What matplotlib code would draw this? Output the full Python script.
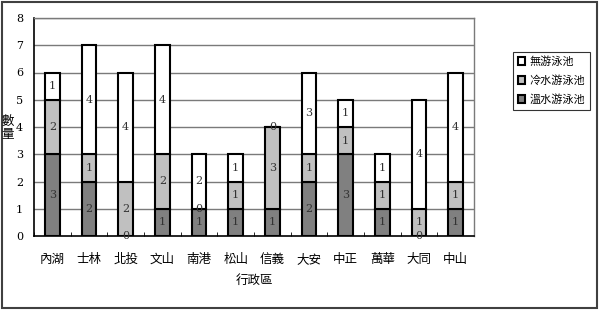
import matplotlib
matplotlib.use('Agg')
import matplotlib.pyplot as plt
import numpy as np

plt.rcParams['font.family'] = ['Noto Sans CJK TC', 'DejaVu Sans']

districts = ['內湖', '士林', '北投', '文山', '南港', '松山', '信義', '大安', '中正', '萬華', '大同', '中山']
warm = [3, 2, 0, 1, 1, 1, 1, 2, 3, 1, 0, 1]   # 溫水游泳池
cold = [2, 1, 2, 2, 0, 1, 3, 1, 1, 1, 1, 1]   # 冷水游泳池
none = [1, 4, 4, 4, 2, 1, 0, 3, 1, 1, 4, 4]   # 無游泳池
yticks = list(range(9))

fig = plt.figure(figsize=(5.99, 3.10), dpi=100)
ax = fig.add_axes([34/599, 1 - 236/310, 440/599, 218/310])

x = np.arange(len(districts))
w = 0.4
warm = np.array(warm); cold = np.array(cold); none = np.array(none)
series = [
    ('溫水游泳池', warm, np.zeros(len(x)), '#808080'),
    ('冷水游泳池', cold, warm, '#c0c0c0'),
    ('無游泳池', none, warm + cold, '#ffffff'),
]
handles = {}
for name, vals, bottom, col in series:
    b = ax.bar(x, vals, w, bottom=bottom, color=col, edgecolor='black', linewidth=1.5, zorder=3)
    handles[name] = b
    for xi, v, bt in zip(x, vals, bottom):
        ax.text(xi, bt + v / 2, str(v), ha='center', va='center', fontsize=8,
                family='DejaVu Serif', color='#333333', zorder=4)

# horizontal gridlines
for yv in yticks[1:]:
    ax.axhline(yv, color='#7a7a7a', linewidth=1.0, zorder=1)

ax.set_xlim(-0.5, len(x) - 0.5)
ax.set_ylim(0, 8)
ax.set_yticks(yticks)
ax.set_yticklabels([str(i) for i in yticks], family='DejaVu Serif', fontsize=8)
ax.set_xticks(x)
ax.set_xticklabels(districts, fontsize=9)
ax.set_xticks(np.arange(-0.5, len(x)), minor=True)
ax.tick_params(axis='x', which='major', length=0, pad=12)
ax.tick_params(axis='x', which='minor', length=3, direction='in', color='black')
ax.tick_params(axis='y', length=0, pad=8)
for s in ['top', 'right']:
    ax.spines[s].set_color('#7a7a7a')
    ax.spines[s].set_linewidth(1.0)
for s in ['left', 'bottom']:
    ax.spines[s].set_color('black')
    ax.spines[s].set_linewidth(1.2)

ax.set_xlabel('行政區', fontsize=9, labelpad=6)
fig.text(8/599, 1 - 128/310, '數\n量', fontsize=9, ha='center', va='center', linespacing=1.1)

order = ['無游泳池', '冷水游泳池', '溫水游泳池']
leg = fig.legend([handles[k] for k in order], order, loc='upper left',
                 bbox_to_anchor=(507/599, 1 - 46/310), fontsize=8, frameon=True,
                 fancybox=False, edgecolor='black', handlelength=0.7, handleheight=0.7,
                 handletextpad=0.4, borderpad=0.45, labelspacing=0.75)
leg.get_frame().set_linewidth(0.8)

fig.patches.append(plt.Rectangle((0.003, 0.005), 0.994, 0.99, transform=fig.transFigure,
                                 fill=False, edgecolor='#404040', linewidth=1.5))

fig.savefig('out.png', dpi=100)
